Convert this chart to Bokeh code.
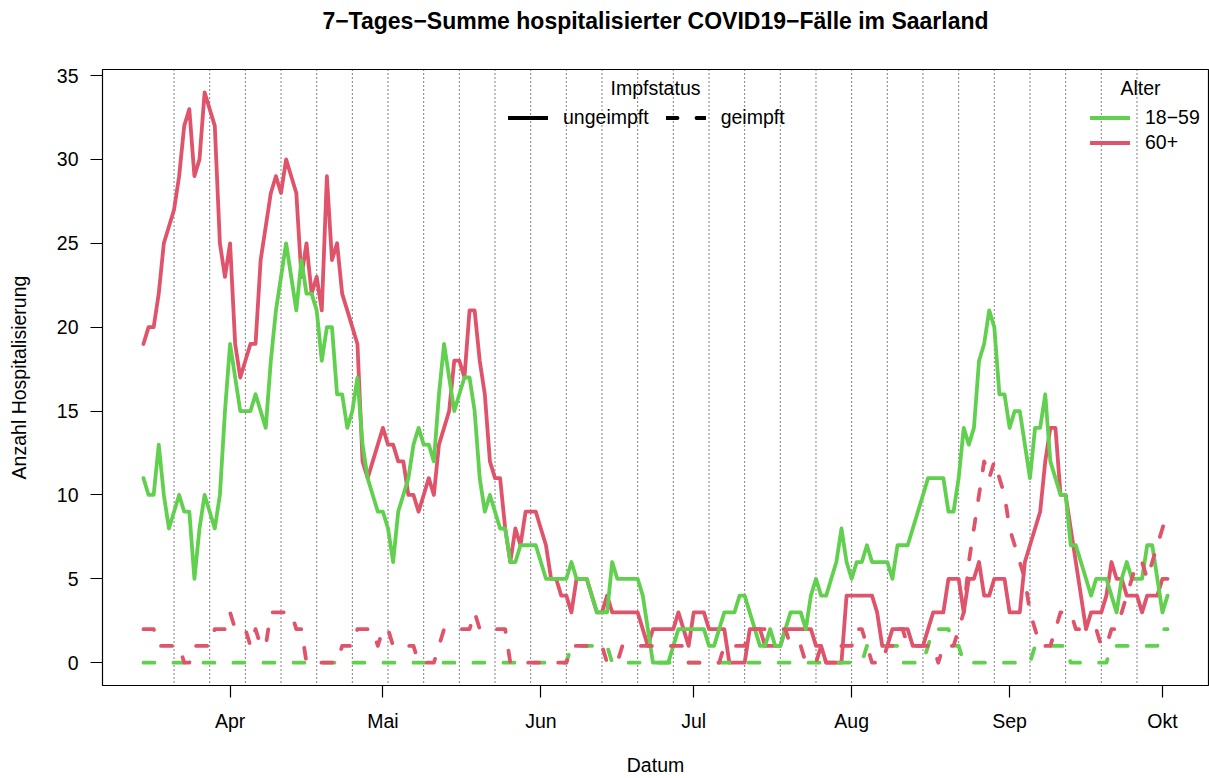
import pandas as pd
from bokeh.plotting import figure
from bokeh.models import (Range1d, FixedTicker, Span, Label, Legend, LegendItem,
                          ColumnDataSource, LinearAxis)
from bokeh.embed import file_html
from bokeh.resources import INLINE

# ---------------- data ----------------
start_date = "2021-03-15"

# 18-59, ungeimpft
g_u = [11, 10, 10, 13, 10, 8, 9, 10, 9, 9,
       5, 8, 10, 9, 8, 10, 15, 19, 17, 15,
       15, 15, 16, 15, 14, 18, 21, 23, 25, 23,
       21, 24, 22, 22, 21, 18, 20, 20, 16, 16,
       14, 15, 17, 13, 11, 10, 9, 9, 8, 6,
       9, 10, 11, 13, 14, 13, 13, 12, 16, 19,
       17, 15, 16, 17, 17, 15, 11, 9, 10, 9,
       8, 8, 6, 6, 7, 7, 7, 7, 6, 5,
       5, 5, 5, 5, 6, 5, 5, 5, 4, 3,
       3, 3, 6, 5, 5, 5, 5, 5, 4, 2,
       0, 0, 0, 0, 1, 2, 2, 2, 2, 2,
       2, 1, 1, 2, 3, 3, 3, 4, 4, 3,
       2, 1, 1, 2, 1, 1, 2, 3, 3, 3,
       2, 4, 5, 4, 4, 5, 6, 8, 6, 5,
       6, 6, 7, 6, 6, 6, 6, 5, 7, 7,
       7, 8, 9, 10, 11, 11, 11, 11, 9, 9,
       11, 14, 13, 14, 18, 19, 21, 20, 16, 16,
       14, 15, 15, 13, 11, 14, 14, 16, 12, 11,
       10, 10, 7, 7, 6, 5, 4, 5, 5, 5,
       4, 3, 5, 6, 5, 5, 5, 7, 7, 5,
       3, 4]

# 60+, ungeimpft
r_u = [19, 20, 20, 22, 25, 26, 27, 29, 32, 33,
       29, 30, 34, 33, 32, 25, 23, 25, 19, 17,
       18, 19, 19, 24, 26, 28, 29, 28, 30, 29,
       28, 23, 25, 22, 23, 21, 29, 24, 25, 22,
       21, 20, 19, 12, 11, 12, 13, 14, 13, 13,
       12, 12, 10, 10, 9, 10, 11, 10, 13, 14,
       15, 18, 18, 17, 21, 21, 18, 16, 12, 11,
       11, 8, 6, 8, 7, 9, 9, 9, 8, 7,
       5, 5, 4, 4, 3, 5, 5, 5, 4, 3,
       3, 4, 3, 3, 3, 3, 3, 3, 2, 1,
       2, 2, 2, 2, 2, 3, 2, 1, 3, 3,
       3, 2, 2, 2, 2, 0, 0, 0, 0, 2,
       2, 2, 1, 1, 1, 1, 2, 2, 2, 2,
       2, 2, 1, 1, 0, 0, 0, 0, 4, 4,
       4, 4, 4, 4, 3, 1, 1, 2, 2, 2,
       2, 1, 1, 1, 2, 3, 3, 3, 5, 5,
       5, 3, 5, 5, 6, 4, 4, 5, 5, 5,
       3, 3, 3, 6, 7, 8, 9, 12, 14, 14,
       10, 10, 8, 6, 4, 2, 3, 3, 3, 4,
       6, 5, 5, 4, 4, 4, 3, 4, 4, 4,
       5, 5]

# 18-59, geimpft
g_g = [0] * 84 + [1] * 8 + [0] * 50 + [1, 1, 1, 1, 1, 1, 1, 0, 0, 0, 0, 0, 1,
       2, 2, 2, 2, 1, 1, 0, 0, 0, 0, 0, 0, 0, 0, 0, 0, 0, 0, 0, 0,
       1, 1, 1, 1, 1, 1, 1, 0, 0, 0, 0, 0, 0, 0, 0, 1, 1, 1, 1, 1,
       1, 1, 1, 1, 1, 2, 2, 2]

# 60+, geimpft
r_g = [2, 2, 2, 1, 1, 1, 1, 1, 0, 0,
       1, 1, 1, 1, 2, 2, 2, 3, 2, 2,
       2, 1, 2, 1, 1, 3, 3, 3, 3, 3,
       2, 2, 0, 0, 0, 0, 0, 0, 0, 1,
       1, 1, 2, 2, 2, 2, 1, 2, 2, 1,
       1, 1, 1, 1, 0, 0, 0, 0, 1, 2,
       2, 2, 2, 2, 2, 3, 2, 2, 2, 2,
       2, 2, 0, 0, 0, 0, 0, 0, 0, 0,
       0, 0, 0, 0, 1, 1, 1, 1, 1, 1,
       1, 0, 0, 0, 1, 1, 1, 1, 1, 1,
       1, 1, 1, 1, 1, 1, 1, 0, 0, 0,
       0, 0, 0, 0, 1, 1, 1, 1, 1, 2,
       2, 2, 2, 2, 2, 2, 2, 1, 1, 1,
       0, 0, 0, 1, 0, 0, 0, 1, 1, 1,
       2, 2, 1, 0, 0, 0, 1, 1, 2, 2,
       1, 1, 1, 1, 1, 1, 0, 1, 1, 1,
       2, 3, 6, 8, 10, 12, 11, 12, 11, 10,
       8, 7, 6, 5, 3, 2, 1, 1, 1, 2,
       3, 3, 3, 2, 2, 2, 2, 2, 1, 1,
       2, 2, 3, 4, 5, 6, 6, 5, 6, 7,
       8, 9]

month_dates = ["2021-04-01", "2021-05-01", "2021-06-01", "2021-07-01",
               "2021-08-01", "2021-09-01", "2021-10-01"]
month_labels = ["Apr", "Mai", "Jun", "Jul", "Aug", "Sep", "Okt"]
y_ticks = [0, 5, 10, 15, 20, 25, 30, 35]

GREEN = "#61D04F"
RED = "#DF536B"
FONT = "Liberation Sans"
FS = "19.5px"

# ---------------- x in days since start ----------------
t0 = pd.Timestamp(start_date)
dates = pd.date_range(t0, periods=len(g_u), freq="D")
xs = [(d - t0).days for d in dates]
month_x = [(pd.Timestamp(m) - t0).days for m in month_dates]
sundays = pd.date_range(dates[0], dates[-1], freq="W-SUN")
sunday_x = [(d - t0).days for d in sundays]

# R-style 4 % padding around the data range
span_x = xs[-1] - xs[0]
x_lo, x_hi = xs[0] - 0.04 * span_x, xs[-1] + 0.04 * span_x
y_max = max(max(g_u), max(r_u), max(g_g), max(r_g))
y_lo, y_hi = -0.04 * y_max, y_max + 0.04 * y_max

src = ColumnDataSource(dict(x=xs, g_u=g_u, r_u=r_u, g_g=g_g, r_g=r_g))

p = figure(width=1209, height=778, output_backend="svg", toolbar_location=None,
           min_border_left=102, min_border_right=1, min_border_top=69, min_border_bottom=93,
           x_range=Range1d(x_lo, x_hi), y_range=Range1d(y_lo, y_hi))
p.background_fill_color = "white"
p.border_fill_color = "white"
p.outline_line_color = "black"
p.outline_line_width = 1.2
p.xgrid.visible = False
p.ygrid.visible = False

for ax in (p.xaxis, p.yaxis):
    ax.axis_line_color = None
    ax.major_tick_line_color = "black"
    ax.major_tick_line_width = 1.2
    ax.major_tick_out = 12
    ax.major_tick_in = 0
    ax.minor_tick_line_color = None
    ax.major_label_text_font = FONT
    ax.major_label_text_font_size = FS
    ax.major_label_text_color = "black"
    ax.major_label_standoff = 12
    ax.axis_label_text_font = FONT
    ax.axis_label_text_font_size = FS
    ax.axis_label_text_font_style = "normal"
    ax.axis_label_text_color = "black"

p.xaxis.axis_label = "Datum"
p.xaxis.axis_label_standoff = 19
p.yaxis.axis_label = "Anzahl Hospitalisierung"
p.yaxis.axis_label_standoff = 24

p.xaxis.ticker = FixedTicker(ticks=month_x)
p.xaxis.major_label_overrides = {mx: lab for mx, lab in zip(month_x, month_labels)}
p.yaxis.ticker = FixedTicker(ticks=y_ticks)

# title carried by a tick-less axis above the frame
title_axis = LinearAxis(ticker=FixedTicker(ticks=[]), axis_line_color=None,
                        major_tick_line_color=None, minor_tick_line_color=None,
                        major_tick_out=0, major_tick_in=0, minor_tick_out=0,
                        major_label_text_font_size="0px",
                        axis_label="7\u2212Tages\u2212Summe hospitalisierter COVID19\u2212F\u00e4lle im Saarland",
                        axis_label_text_font=FONT, axis_label_text_font_size="23px",
                        axis_label_text_font_style="bold", axis_label_text_color="black",
                        axis_label_standoff=36)
p.add_layout(title_axis, "above")

for sx in sunday_x:
    p.add_layout(Span(location=sx, dimension="height", line_color="black",
                      line_width=1, line_dash="1 3", level="underlay"))

LW = 3.8
r1 = p.line("x", "r_u", source=src, line_color=RED, line_width=LW, line_join="round", line_cap="round")
r2 = p.line("x", "g_u", source=src, line_color=GREEN, line_width=LW, line_join="round", line_cap="round")
r3 = p.line("x", "g_g", source=src, line_color=GREEN, line_width=LW, line_dash="11 19", line_join="round", line_cap="round")
r4 = p.line("x", "r_g", source=src, line_color=RED, line_width=LW, line_dash="11 19", line_join="round", line_cap="round")

# legend-only renderers (NaN data, draw nothing in the plot)
nan_src = ColumnDataSource(dict(x=[float("nan")], y=[float("nan")]))
k_solid = p.line("x", "y", source=nan_src, line_color="black", line_width=LW, line_cap="round")
k_dash = p.line("x", "y", source=nan_src, line_color="black", line_width=LW, line_dash="11 19", line_cap="round")

common = dict(glyph_width=40, glyph_height=25, label_height=25, label_standoff=15,
              padding=0, margin=0, border_line_color=None, background_fill_alpha=0,
              label_text_font=FONT, label_text_font_size=FS, label_text_color="black")

leg1 = Legend(items=[LegendItem(label="ungeimpft", renderers=[k_solid]),
                     LegendItem(label="geimpft", renderers=[k_dash])],
              orientation="horizontal", spacing=17, location=(406, 555.5), **common)
leg2 = Legend(items=[LegendItem(label="18\u221259", renderers=[r2]),
                     LegendItem(label="60+", renderers=[r1])],
              orientation="vertical", spacing=0, location=(988, 530.5), **common)
p.add_layout(leg1)
p.add_layout(leg2)

def lab(text, x, y):
    p.add_layout(Label(x=x, y=y, x_units="screen", y_units="screen", text=text,
                       text_font=FONT, text_font_size=FS, text_align="center",
                       text_baseline="middle", text_color="black"))

# frame in page px: left 102, right 1208, top 69, bottom 685
lab("Impfstatus", 655 - 102, 685 - 87)
lab("Alter", 1140 - 102, 685 - 87)

open("out.html", "w").write(file_html(p, INLINE))
